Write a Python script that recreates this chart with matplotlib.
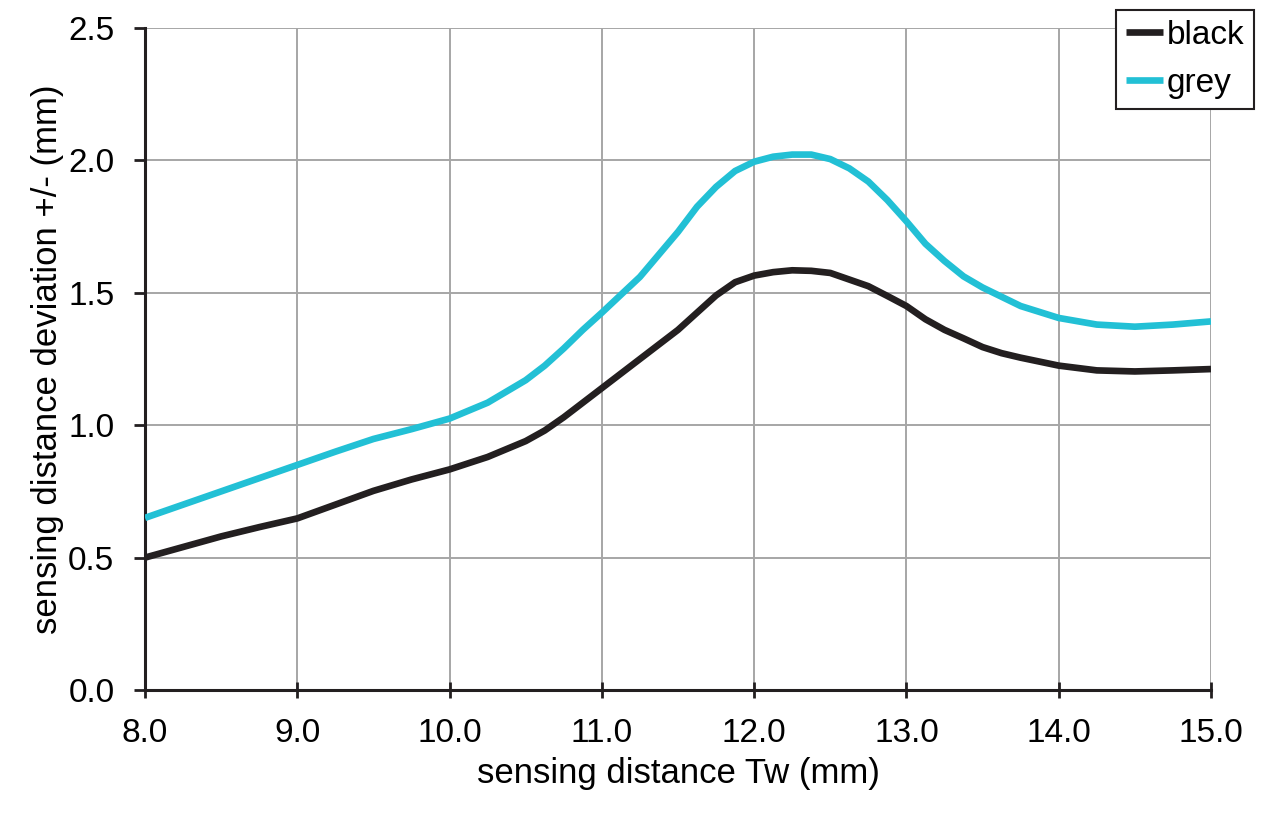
import matplotlib
matplotlib.use("Agg")
import matplotlib.pyplot as plt

# values
distance = [8.0, 8.25, 8.5, 8.75, 9.0, 9.25, 9.5, 9.75, 10.0, 10.25, 10.5,
            10.625, 10.75, 10.875, 11.0, 11.25, 11.5, 11.625, 11.75, 11.875,
            12.0, 12.125, 12.25, 12.375, 12.5, 12.625, 12.75, 12.875, 13.0,
            13.125, 13.25, 13.375, 13.5, 13.625, 13.75, 14.0, 14.25, 14.5,
            14.75, 15.0]
black = [0.50, 0.54, 0.58, 0.615, 0.648, 0.70, 0.752, 0.795, 0.833, 0.88,
         0.94, 0.98, 1.03, 1.085, 1.14, 1.25, 1.36, 1.425, 1.49, 1.54,
         1.565, 1.578, 1.585, 1.583, 1.575, 1.55, 1.525, 1.488, 1.45,
         1.40, 1.36, 1.328, 1.295, 1.272, 1.255, 1.225, 1.207, 1.203,
         1.207, 1.212]
grey = [0.65, 0.70, 0.75, 0.80, 0.85, 0.90, 0.948, 0.985, 1.025, 1.085,
        1.17, 1.225, 1.29, 1.36, 1.425, 1.56, 1.73, 1.825, 1.90, 1.96,
        1.995, 2.014, 2.022, 2.022, 2.005, 1.97, 1.92, 1.85, 1.77,
        1.685, 1.62, 1.562, 1.52, 1.485, 1.45, 1.405, 1.38, 1.372,
        1.38, 1.392]
x_ticks = [8.0, 9.0, 10.0, 11.0, 12.0, 13.0, 14.0, 15.0]
y_ticks = [0.0, 0.5, 1.0, 1.5, 2.0, 2.5]

plt.rcParams['font.family'] = ['Liberation Sans', 'DejaVu Sans']

fig = plt.figure(figsize=(12.8, 8.32), dpi=100)
ax = fig.add_axes([145 / 1280, 1 - 690 / 832, (1211 - 145) / 1280, (690 - 28) / 832])

ax.plot(distance, black, color='#231f20', lw=4.8, solid_capstyle='butt',
        solid_joinstyle='round', label='black', zorder=3)
ax.plot(distance, grey, color='#22c0d5', lw=4.8, solid_capstyle='butt',
        solid_joinstyle='round', label='grey', zorder=3)

ax.set_xlim(8.0, 15.0)
ax.set_ylim(0.0, 2.5)
ax.set_xticks(x_ticks)
ax.set_yticks(y_ticks)
ax.set_xticklabels([f"{v:.1f}" for v in x_ticks])
ax.set_yticklabels([f"{v:.1f}" for v in y_ticks])
ax.grid(True, color='#a6a6a6', lw=1.4)
ax.set_axisbelow(True)

for side in ('top', 'right'):
    ax.spines[side].set_visible(False)
for side in ('left', 'bottom'):
    ax.spines[side].set_color('#231f20')
    ax.spines[side].set_linewidth(2.2)
ax.spines['bottom'].set_zorder(4)

ax.tick_params(axis='y', direction='out', length=8, width=2, color='#231f20',
               labelsize=24, pad=14)
ax.tick_params(axis='x', direction='inout', length=12, width=2, color='#231f20',
               labelsize=24, pad=14)

ax.set_xlabel('sensing distance Tw (mm)', fontsize=25, labelpad=6)
ax.set_ylabel('sensing distance deviation +/- (mm)', fontsize=25, labelpad=3)

leg = ax.legend(loc='upper right', bbox_to_anchor=(1254 / 1280, 1 - 10 / 832),
                bbox_transform=fig.transFigure, fontsize=24, frameon=True,
                fancybox=False, handlelength=1.1, handletextpad=0.1,
                borderpad=0.3, labelspacing=0.5, borderaxespad=0)
leg.get_frame().set_edgecolor('#231f20')
leg.get_frame().set_linewidth(1.5)
leg.get_frame().set_alpha(1)

fig.savefig('out.png', dpi=100)
